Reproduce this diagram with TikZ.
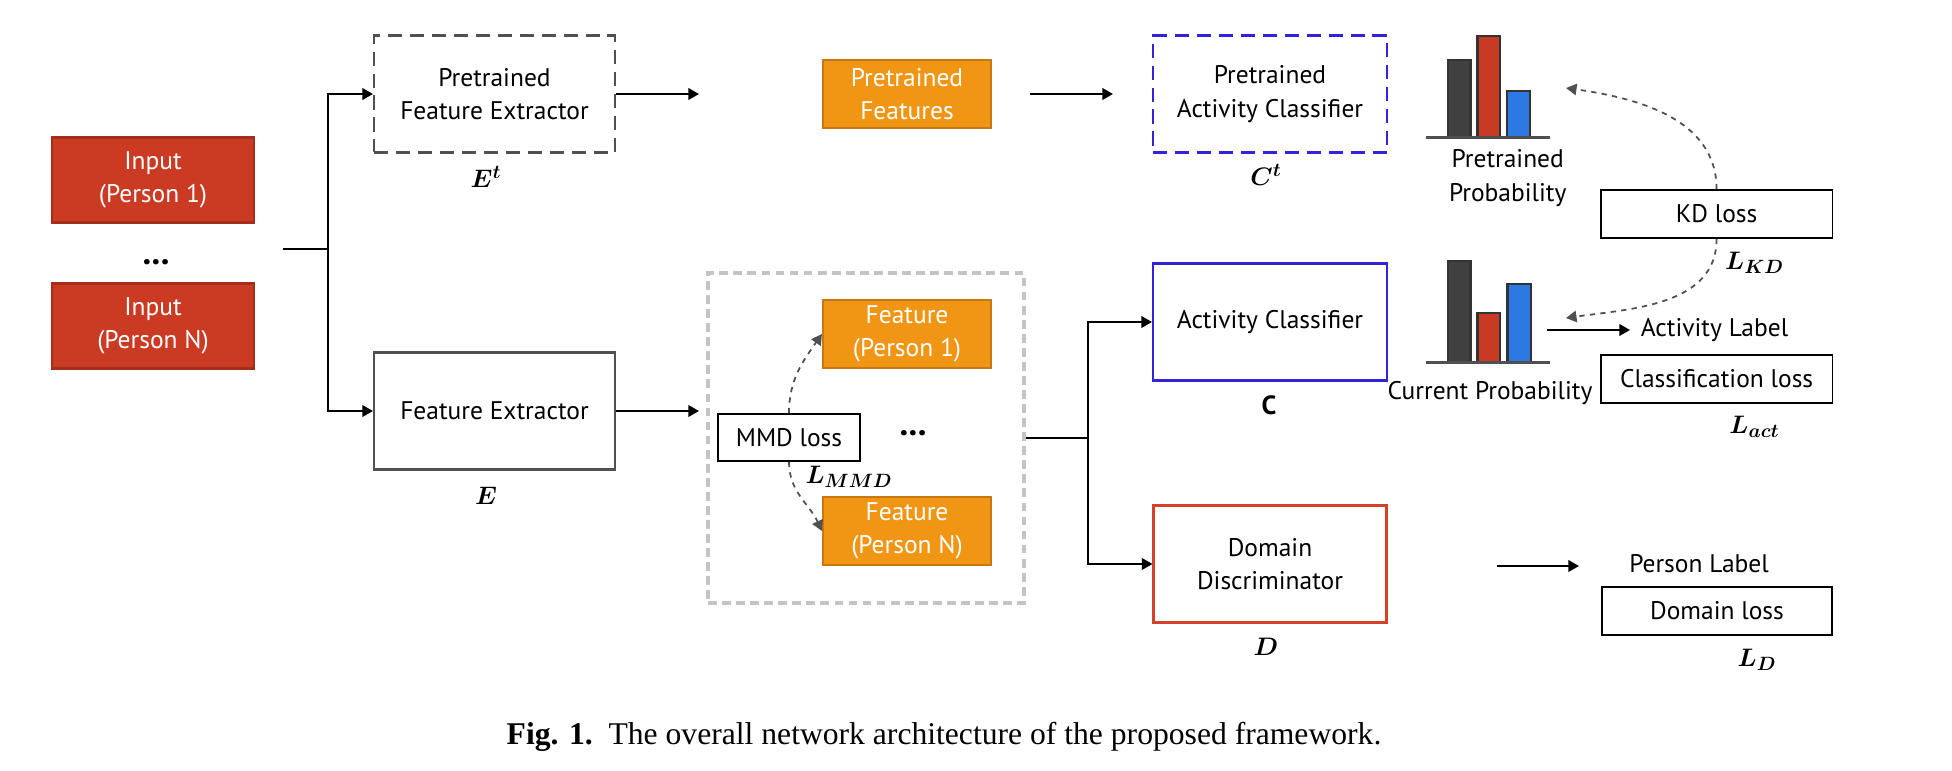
\documentclass[tikz,border=0pt]{standalone}
\usepackage{fontspec}
\setmainfont{PT Sans}
\newfontfamily\capfont{Liberation Serif}
\usepackage{amsmath,bm}
\usetikzlibrary{arrows.meta}

\definecolor{inred}{HTML}{CB3B24}
\definecolor{inredb}{HTML}{A52E1B}
\definecolor{featorange}{HTML}{F19514}
\definecolor{featorangeb}{HTML}{C8780F}
\definecolor{clsblue}{HTML}{3322DD}
\definecolor{discred}{HTML}{D5402B}
\definecolor{bargray}{HTML}{404040}
\definecolor{barred}{HTML}{C93A24}
\definecolor{barblue}{HTML}{2C79E3}
\definecolor{boxgray}{HTML}{505050}
\definecolor{lightdash}{HTML}{C4C4C4}

\begin{document}
\begin{tikzpicture}[x=0.02cm,y=-0.02cm,
    font=\fontsize{14.5}{19}\selectfont,
    every node/.style={inner sep=0pt,align=center},
    inbox/.style={draw=inredb,fill=inred,text=white,line width=1.2pt,minimum width=4.04cm,minimum height=1.7cm},
    netbox/.style={line width=1.2pt,minimum width=4.82cm,minimum height=2.34cm},
    featbox/.style={draw=featorangeb,fill=featorange,text=white,line width=1.2pt,minimum width=3.36cm,minimum height=1.36cm},
    lossbox/.style={draw=black,line width=1pt,minimum width=4.64cm,minimum height=0.96cm},
    sym/.style={font=\fontsize{15}{17}\selectfont},
    arr/.style={line width=1.2pt,-{Triangle[length=6pt,width=6.5pt]}},
    kdarr/.style={dashed,draw=boxgray,line width=1pt,-{Triangle[length=6pt,width=6.5pt]}},
  ]
  \useasboundingbox (0,0) rectangle (1952,771);

  % inputs
  \node[inbox] (In1) at (153,180) {Input\\(Person 1)};
  \node[inbox] (InN) at (153,326) {Input\\(Person N)};
  \node[font=\fontsize{20}{20}\selectfont\bfseries] (dots1) at (156,262) {...};

  % extractors
  \node[netbox,draw=boxgray,dash pattern=on 8pt off 4.5pt] (Et) at (494.5,94) {Pretrained\\Feature Extractor};
  \node[netbox,draw=boxgray] (E) at (494.5,411) {Feature Extractor};
  \node[sym] (Etl) at (486,177) {$\bm{E}^{\bm{t}}$};
  \node[sym] (El) at (486,496) {$\bm{E}$};

  \coordinate (S) at (283,249);
  \coordinate (T) at (328,249);
  \draw[line width=1.2pt] (S) -- (T);
  \draw[arr] (T) |- (Et.west);
  \draw[arr] (T) |- (E.west);

  % pretrained branch
  \node[featbox] (PF) at (907,94) {Pretrained\\Features};
  \node[netbox,minimum width=4.68cm,draw=clsblue,dash pattern=on 8pt off 4.5pt] (Ct) at (1270,94) {Pretrained\\Activity Classifier};
  \node[sym] (Ctl) at (1266,175) {$\bm{C}^{\bm{t}}$};
  \coordinate (pf0) at (699,94);
  \coordinate (pf1) at (1030,94);
  \coordinate (ct0) at (1113,94);
  \draw[arr] (Et.east) -- (pf0);
  \draw[arr] (pf1) -- (ct0);

  % feature alignment block
  \node[draw=lightdash,line width=1.8pt,dash pattern=on 5pt off 3pt,minimum width=6.32cm,minimum height=6.6cm] (G) at (866,438) {};
  \node[featbox] (F1) at (907,334) {Feature\\(Person 1)};
  \node[featbox] (FN) at (907,531) {Feature\\(Person N)};
  \node[draw=black,line width=1pt,minimum width=2.84cm,minimum height=0.94cm] (MMD) at (789,437.5) {MMD loss};
  \node[font=\fontsize{20}{20}\selectfont\bfseries] (dots2) at (913,433) {...};
  \node[sym] (Lmmd) at (849,477) {$\bm{L_{MMD}}$};
  \draw[kdarr] (MMD.north) to[out=90,in=235] (F1.west);
  \draw[kdarr] (MMD.south) to[out=-90,in=115] (FN.west);
  \coordinate (e0) at (699,411);
  \draw[arr] (E.east) -- (e0);

  % classifiers
  \node[netbox,minimum width=4.68cm,draw=clsblue] (C) at (1270,322) {Activity Classifier};
  \node[netbox,minimum width=4.66cm,draw=discred] (D) at (1270,564) {Domain\\Discriminator};
  \node[sym] (Cl) at (1269,405) {$\mathbf{C}$};
  \node[sym] (Dl) at (1266,647) {$\bm{D}$};
  \coordinate (J) at (1088,438);
  \draw[line width=1.2pt] (G.east) -- (J);
  \draw[arr] (J) |- (C.west);
  \draw[arr] (J) |- (D.west);

  % probability bars
  \draw[draw=bargray!80!black,line width=1.2pt,fill=bargray] (1448,137.7) rectangle (1470.5,60);
  \draw[draw=bargray!80!black,line width=1.2pt,fill=barred] (1477.5,137.7) rectangle (1500,35.7);
  \draw[draw=bargray!80!black,line width=1.2pt,fill=barblue] (1507,137.7) rectangle (1530,90.7);
  \draw[draw=boxgray,line width=1.4pt] (1425.6,137.7) -- (1549.5,137.7);
  \node (PP) at (1507.7,178) {Pretrained\\Probability};

  \draw[draw=bargray!80!black,line width=1.2pt,fill=bargray] (1448,362.7) rectangle (1470.5,260.7);
  \draw[draw=bargray!80!black,line width=1.2pt,fill=barred] (1477.5,362.7) rectangle (1500,312.7);
  \draw[draw=bargray!80!black,line width=1.2pt,fill=barblue] (1507.5,362.7) rectangle (1531,284);
  \draw[draw=boxgray,line width=1.4pt] (1425.6,362.7) -- (1550,362.7);
  \node (CP) at (1490,393) {Current Probability};

  % losses
  \node[lossbox] (KD) at (1716.6,214) {KD loss};
  \node[sym] (Lkd) at (1754.5,263) {$\bm{L_{KD}}$};
  \coordinate (pp0) at (1566,88);
  \coordinate (cp0) at (1566,318);
  \draw[kdarr] (KD.north) to[out=90,in=-8] (pp0);
  \draw[kdarr] (KD.south) to[out=-90,in=8] (cp0);

  \coordinate (al0) at (1547,330);
  \coordinate (al1) at (1630,330);
  \draw[arr] (al0) -- (al1);
  \node (AL) at (1714.5,330) {Activity Label};
  \node[lossbox] (CL) at (1716.6,379) {Classification loss};
  \node[sym] (Lact) at (1754.5,427) {$\bm{L_{act}}$};

  \coordinate (pl0) at (1497,566);
  \coordinate (pl1) at (1579,566);
  \draw[arr] (pl0) -- (pl1);
  \node (PL) at (1699,564) {Person Label};
  \node[lossbox,minimum width=4.6cm] (DL) at (1717,611) {Domain loss};
  \node[sym] (Ld) at (1757,660) {$\bm{L_{D}}$};

  \node[font=\capfont\fontsize{18}{20}\selectfont] (cap) at (944,737) {\textbf{Fig. 1.}\enspace The overall network architecture of the proposed framework.};
\end{tikzpicture}
\end{document}
